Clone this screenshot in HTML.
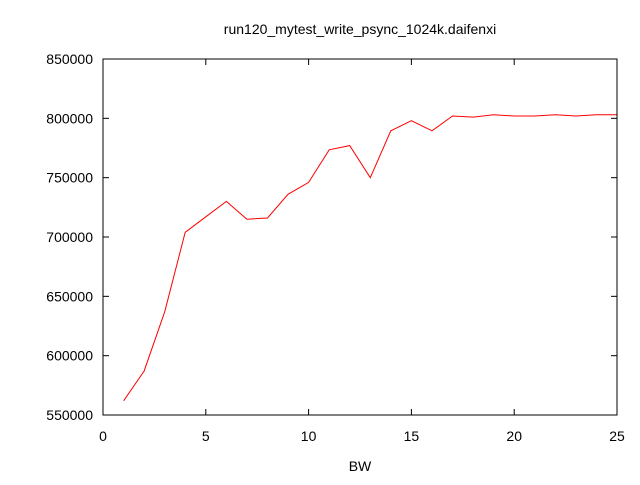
<!DOCTYPE html>
<html><head><meta charset="utf-8"><style>
body{margin:0;background:#fff;}
svg text{font-family:"Liberation Sans",Arial,sans-serif;font-size:14px;fill:#000;}
</style></head><body>
<svg id="chart" width="640" height="480" xmlns="http://www.w3.org/2000/svg">
<rect width="640" height="480" fill="#fff"/>
<text x="360" y="34" text-anchor="middle">run120_mytest_write_psync_1024k.daifenxi</text>
<text x="360" y="471" text-anchor="middle">BW</text>
<g id="axes"></g>
<g id="series"></g>
<rect x="103" y="59" width="514" height="356" fill="none" stroke="#000" stroke-width="1"/>
</svg>
<script>
const xs = [1,2,3,4,5,6,7,8,9,10,11,12,13,14,15,16,17,18,19,20,21,22,23,24,25];
const ys = [562000,587000,637000,704000,717000,730000,715000,716000,736000,746000,773500,777000,750000,789500,798000,789500,802000,801000,803000,802000,802000,803000,802000,803000,803000];
const xTicks = [0,5,10,15,20,25];
const yTicks = [550000,600000,650000,700000,750000,800000,850000];
const L=103,R=617,T=59,B=415;
function sx(v){return L+(v-0)/(25-0)*(R-L);}
function sy(v){return B-(v-550000)/(850000-550000)*(B-T);}
const NS="http://www.w3.org/2000/svg";
const axes=document.getElementById('axes');
function mk(tag,attrs,parent){const e=document.createElementNS(NS,tag);for(const k in attrs)e.setAttribute(k,attrs[k]);parent.appendChild(e);return e;}
xTicks.forEach(t=>{
  const x=sx(t);
  const l1=mk('line',{x1:x,x2:x,y1:B,y2:B-6,stroke:'#000'},axes);
  
  
  const l2=mk('line',{x1:x,x2:x,y1:T,y2:T+6,stroke:'#000'},axes);
  
  
  const tx=mk('text',{x:x,y:B+26,'text-anchor':'middle'},axes);
  tx.textContent=t;
  
  
});
yTicks.forEach(t=>{
  const y=sy(t);
  const l1=mk('line',{x1:L,x2:L+6,y1:y,y2:y,stroke:'#000'},axes);
  
  
  const l2=mk('line',{x1:R,x2:R-6,y1:y,y2:y,stroke:'#000'},axes);
  
  
  const tx=mk('text',{x:L-10,y:y+5,'text-anchor':'end'},axes);
  tx.textContent=t;
  
  
});
const pts=xs.map((x,i)=>sx(x).toFixed(1)+','+sy(ys[i]).toFixed(1)).join(' ');
const pl=mk('polyline',{points:pts,fill:'none',stroke:'#ff0000','stroke-width':1},document.getElementById('series'));


</script>
</body></html>
